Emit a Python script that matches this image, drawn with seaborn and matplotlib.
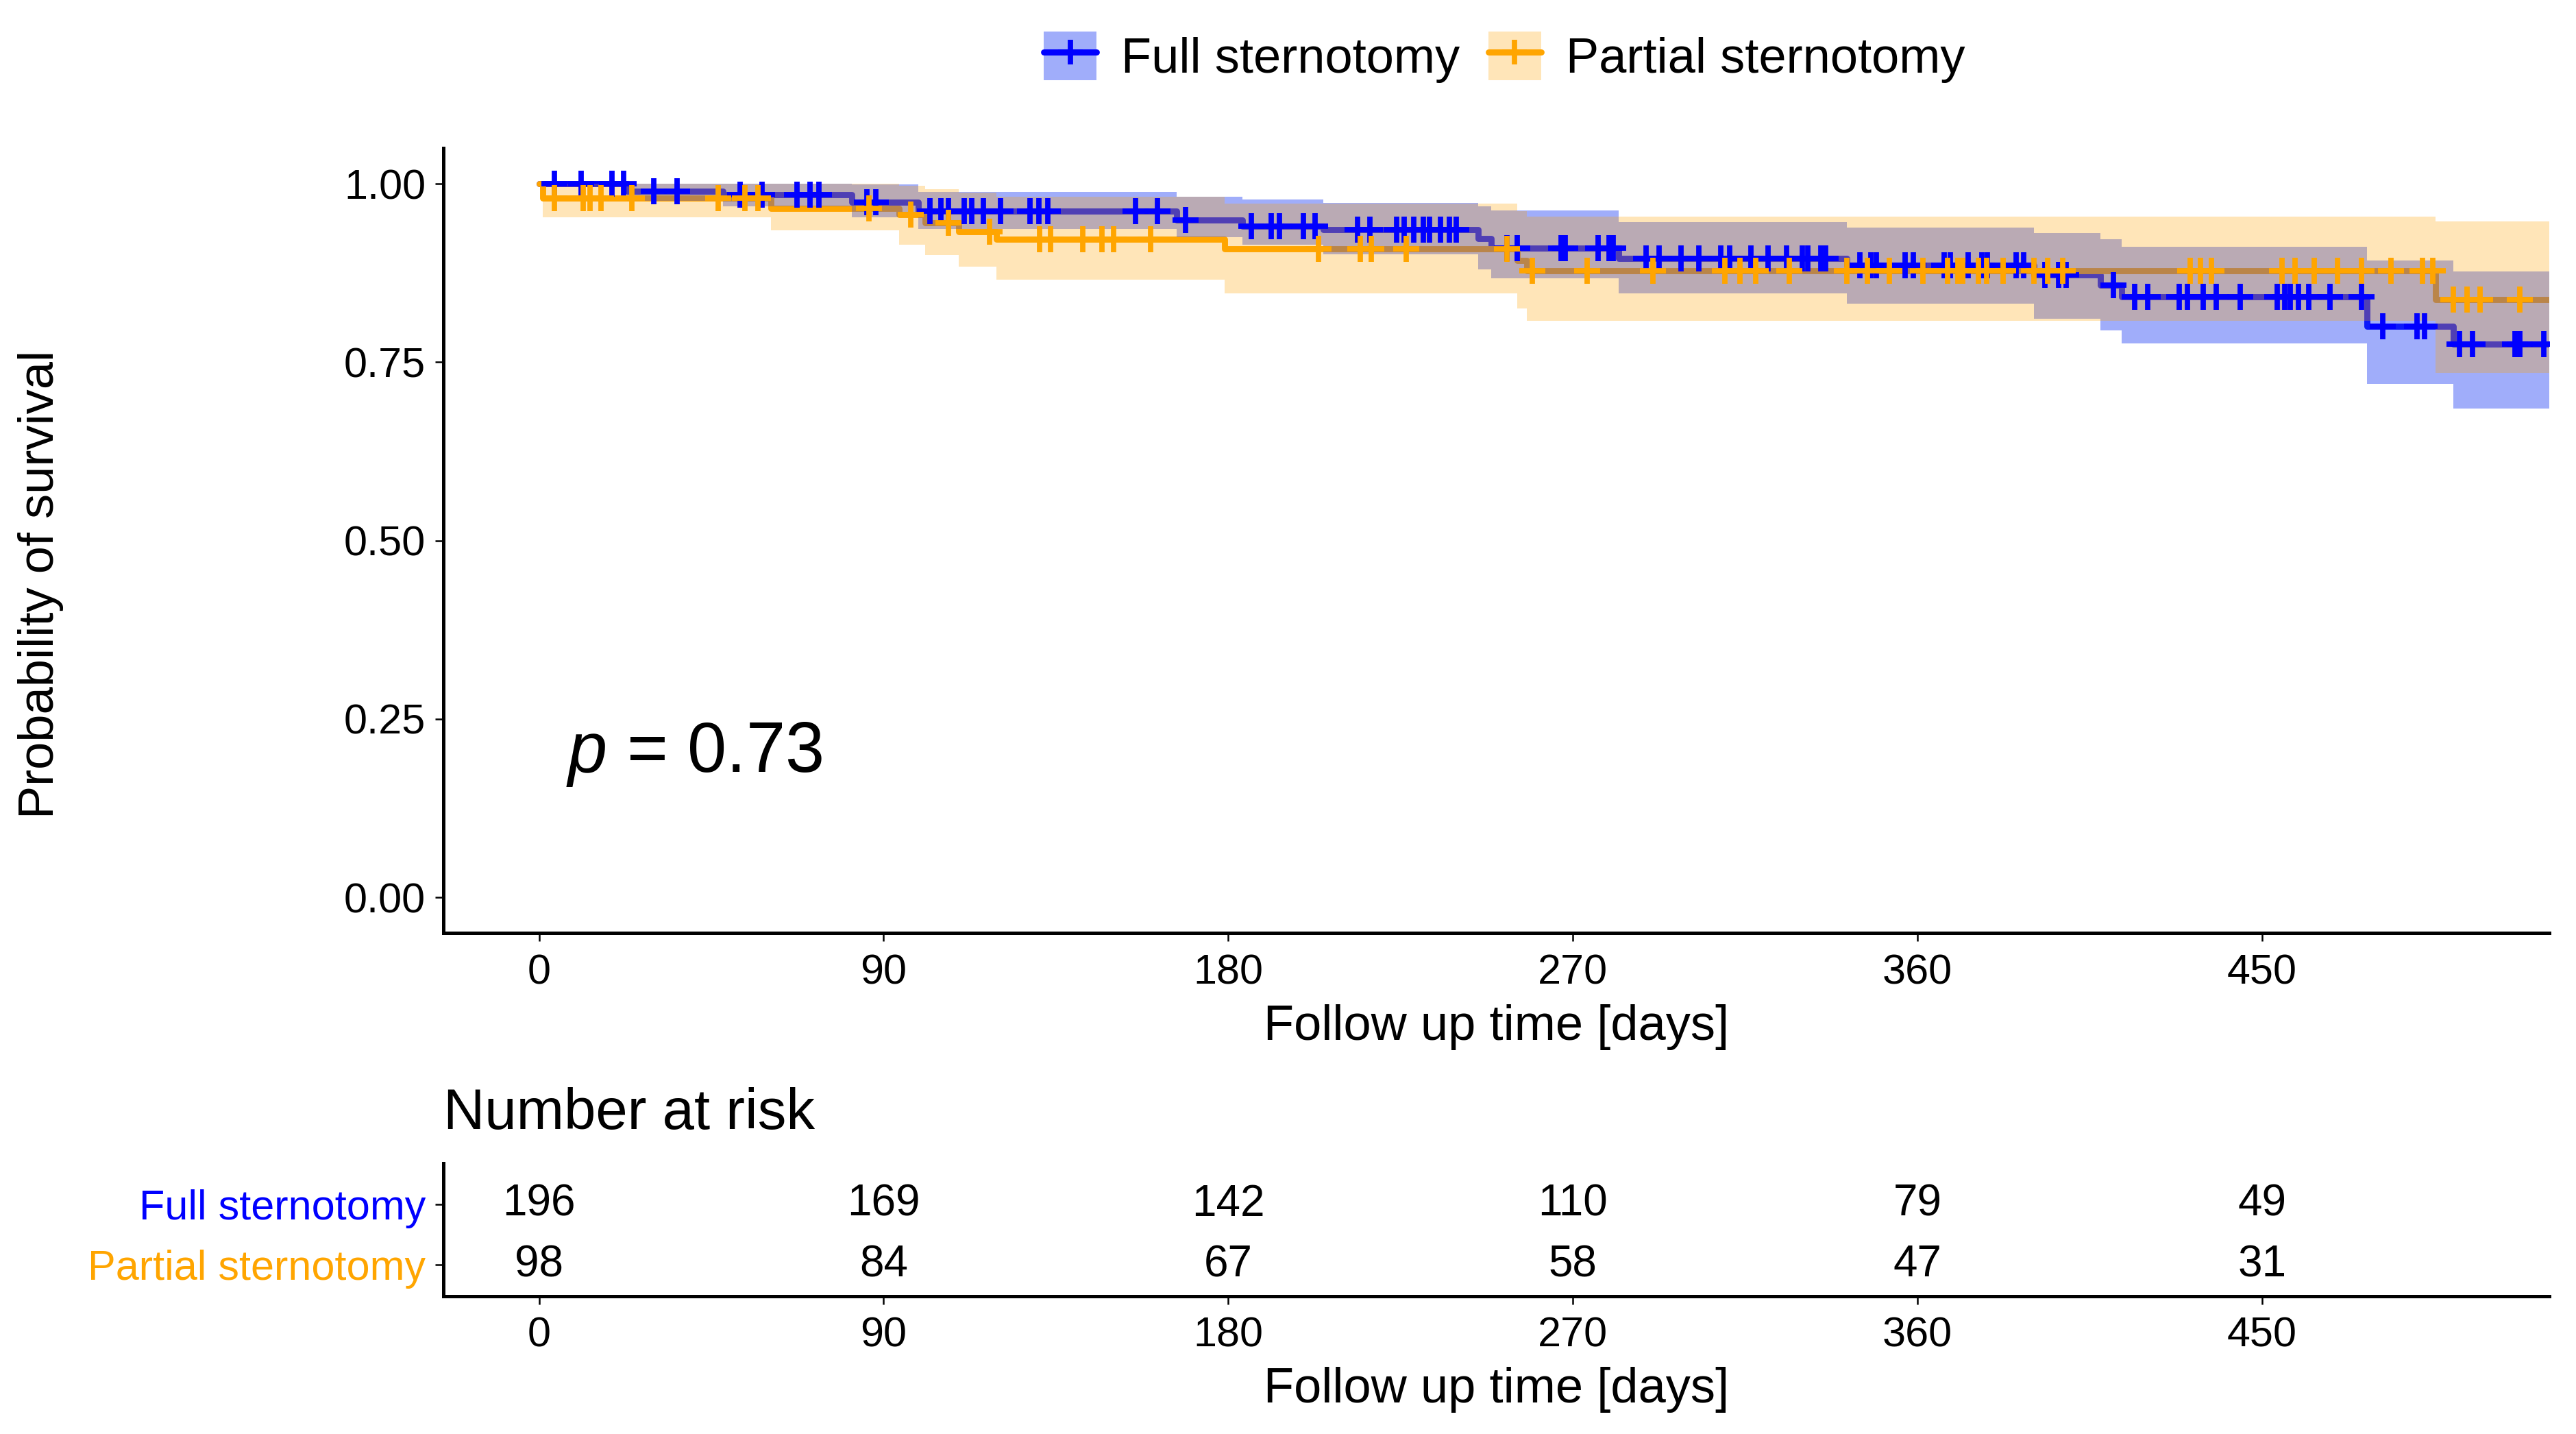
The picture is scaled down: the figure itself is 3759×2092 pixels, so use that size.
import numpy as np
import matplotlib
matplotlib.use("Agg")
import matplotlib.pyplot as plt
import seaborn as sns
from matplotlib.patches import Patch
from matplotlib.lines import Line2D

# ----------------------------
# DATA
# ----------------------------

groups = ["Full sternotomy", "Partial sternotomy"]
blue = "#0000FF"
orange = "#FFA500"
blue_band = "#1E3CF5"

# Full sternotomy: KM steps (post), confidence band, censoring times
full_time  = [0, 22.9, 48.0, 81.6, 99.0, 166.6, 183.7, 204.8, 245.3, 248.7, 282.0, 341.6, 390.5, 407.7, 413.3, 477.4, 500.0, 525.0]
full_surv  = [1.0, 0.990, 0.985, 0.974, 0.962, 0.949, 0.941, 0.936, 0.923, 0.910, 0.895, 0.886, 0.872, 0.858, 0.842, 0.800, 0.775, 0.775]
full_upper = [1.0, 1.0, 1.0, 0.999, 0.989, 0.982, 0.978, 0.973, 0.968, 0.963, 0.946, 0.939, 0.931, 0.922, 0.912, 0.893, 0.877, 0.877]
full_lower = [1.0, 0.976, 0.968, 0.953, 0.937, 0.925, 0.915, 0.901, 0.880, 0.868, 0.846, 0.832, 0.811, 0.795, 0.776, 0.720, 0.685, 0.685]
full_censor = [4, 11, 19, 22, 30, 36, 52.6, 58.3, 67.4, 70.8, 73.1, 85.6, 87.9,
               102, 105, 107, 111, 113, 116, 120.5, 128.3, 130.5, 132.9, 155.8, 161.5,
               168.9, 186, 191.2, 193.4, 199.7, 202.6,
               213.7, 217, 223.9, 226, 228.5, 231, 232.6, 235.4, 237.7, 239.5,
               252.7, 255.5, 267, 268, 276.6, 279.4, 280.5,
               289.2, 292.6, 298.3, 302.9, 308.6, 310.9, 316.5, 321, 325.8, 329.9, 331.3, 334.8, 336.1,
               345, 347.8, 349.2, 356.7, 358.9, 367, 368.5, 373.3, 376.8, 378.2, 385.7, 387.8,
               393.3, 396.8, 398.8, 411.2,
               416.7, 420.2, 428.4, 430.5, 434.6, 438, 444.3, 454, 456, 457.4, 459.5, 462.2, 467.7, 476,
               481.5, 490.4, 492.5, 501.6, 505, 516, 517.4, 523.5]

# Partial sternotomy
part_time  = [0, 1.0, 60.5, 94.0, 100.8, 109.6, 119.5, 179.0, 255.5, 258.0, 495.3, 525.0]
part_surv  = [1.0, 0.980, 0.966, 0.957, 0.945, 0.933, 0.922, 0.909, 0.893, 0.878, 0.838, 0.838]
part_upper = [1.0, 1.0, 1.0, 0.997, 0.992, 0.988, 0.982, 0.972, 0.962, 0.954, 0.947, 0.947]
part_lower = [1.0, 0.953, 0.935, 0.915, 0.900, 0.884, 0.866, 0.846, 0.825, 0.808, 0.735, 0.735]
part_censor = [4, 11.5, 13.3, 16.1, 24.2, 46.8, 53.7, 57.1, 86.2, 97, 107, 117.6,
               130.7, 133.6, 142, 147, 150, 159.8, 203.6, 214.5, 217.4, 226.4, 252.7,
               259.5, 273.8, 291, 309.7, 313.7, 317.7, 326.5,
               341.6, 347, 352.6, 361.5, 367.8, 370.5, 371.9, 376, 378.1, 382.3, 390.5, 394, 398,
               431.2, 433.9, 436.7, 455.3, 458.7, 463.6, 469.8, 476, 483.6, 491.9, 494.6,
               500, 503.5, 507, 517.4]

risk_times = [0, 90, 180, 270, 360, 450]
risk_full = [196, 169, 142, 110, 79, 49]
risk_part = [98, 84, 67, 58, 47, 31]
p_value = "0.73"

curves = [
    (groups[0], blue, blue_band, 0.42, full_time, full_surv, full_upper, full_lower, full_censor),
    (groups[1], orange, orange, 0.28, part_time, part_surv, part_upper, part_lower, part_censor),
]

# ----------------------------
# PLOT
# ----------------------------

sns.set_theme(style="ticks")
plt.rcParams["font.family"] = ["Liberation Sans", "DejaVu Sans"]
plt.rcParams["mathtext.fontset"] = "custom"
plt.rcParams["mathtext.rm"] = "Liberation Sans"
plt.rcParams["mathtext.it"] = "Liberation Sans:italic"
plt.rcParams["text.color"] = "black"
plt.rcParams["axes.labelcolor"] = "black"

fig = plt.figure(figsize=(18.795, 10.46), dpi=200)
ax = fig.add_axes([0.1721, 0.3494, 0.8175, 0.5473])
ax2 = fig.add_axes([0.1721, 0.0961, 0.8175, 0.0927])

# step lines first
for name, col, bcol, al, t, s, up, lo, cens in curves:
    sns.lineplot(x=t, y=s, drawstyle="steps-post", color=col, lw=3.2,
                 estimator=None, sort=False, ax=ax, zorder=2)

# confidence bands on top of the lines
for name, col, bcol, al, t, s, up, lo, cens in curves:
    ax.fill_between(t, lo, up, step="post", color=bcol, alpha=al, lw=0, zorder=3)

# censor marks
for name, col, bcol, al, t, s, up, lo, cens in curves:
    idx = np.searchsorted(t, cens, side="right") - 1
    cy = np.asarray(s)[idx]
    sns.scatterplot(x=cens, y=cy, marker="+", s=180, color=col, linewidth=2.8,
                    ax=ax, zorder=4, legend=False)

ax.set_xlim(-25, 525)
ax.set_ylim(-0.05, 1.05)
ax.set_xticks(risk_times)
ax.set_yticks([0, 0.25, 0.5, 0.75, 1.0])
ax.set_yticklabels(["0.00", "0.25", "0.50", "0.75", "1.00"])
ax.set_xlabel("Follow up time [days]", fontsize=26, va="center")
ax.xaxis.set_label_coords(0.5, -0.12)
ax.set_ylabel("Probability of survival", fontsize=26, va="center")
ax.yaxis.set_label_coords(-0.191, 0.444)

ax.text(7, 0.2, r"$p$ = " + p_value, fontsize=37, va="center", ha="left")

for a in (ax, ax2):
    sns.despine(ax=a)
    for sp in ("left", "bottom"):
        a.spines[sp].set_linewidth(1.8)
        a.spines[sp].set_color("black")
    a.tick_params(axis="both", length=4.3, width=0.9, color="black",
                  labelsize=22, labelcolor="black", pad=5)
    a.tick_params(axis="x", pad=6.5)

# ----------------------------
# RISK TABLE
# ----------------------------

rows = {groups[0]: 2, groups[1]: 1}
for name, vals in ((groups[0], risk_full), (groups[1], risk_part)):
    for tt, v in zip(risk_times, vals):
        ax2.text(tt, rows[name], str(v), ha="center", va="center", fontsize=23)

ax2.set_xlim(-25, 525)
ax2.set_ylim(0.485, 2.675)
ax2.set_xticks(risk_times)
ax2.set_yticks([2, 1])
ax2.set_yticklabels(groups)
for lab, col in zip(ax2.get_yticklabels(), [blue, orange]):
    lab.set_color(col)
ax2.set_xlabel("Follow up time [days]", fontsize=26, va="center")
ax2.xaxis.set_label_coords(0.5, -0.706)
ax2.set_ylabel("")

fig.text(0.1721, 0.2232, "Number at risk", fontsize=30, ha="left", va="center")

# legend
handles = [
    (Patch(facecolor=blue_band, alpha=0.42, lw=0),
     Line2D([], [], color=blue, lw=3.2, marker="+", ms=13, mew=2.8)),
    (Patch(facecolor=orange, alpha=0.28, lw=0),
     Line2D([], [], color=orange, lw=3.2, marker="+", ms=13, mew=2.8)),
]
fig.legend(handles, groups, loc="center", bbox_to_anchor=(0.584, 0.96), ncol=2,
           frameon=False, fontsize=26, handlelength=1.07, handleheight=1.14,
           handletextpad=0.5, columnspacing=0.57)

fig.savefig("out.png", dpi=200)
